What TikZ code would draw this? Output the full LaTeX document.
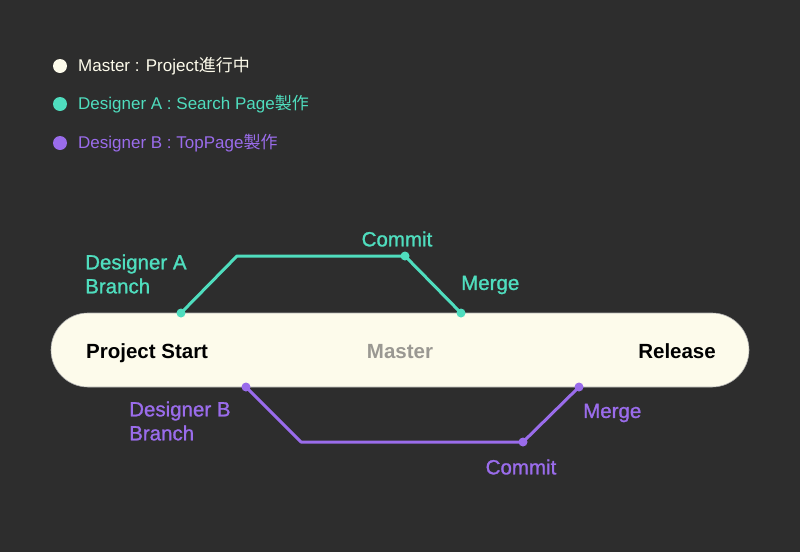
\documentclass[tikz,border=0pt]{standalone}
\usepackage{fontspec}
\usetikzlibrary{shapes.misc}
\setmainfont{Liberation Sans}
\newfontfamily\jp{Noto Sans CJK JP}
\newfontfamily\med{Liberation Sans}[FakeBold=1.2]
\definecolor{bg}{HTML}{2D2D2D}
\definecolor{cream}{HTML}{FDFBEB}
\definecolor{teal}{HTML}{4FDDBE}
\definecolor{purp}{HTML}{9A6CEB}
\definecolor{mgray}{HTML}{9A9892}
\begin{document}
\begin{tikzpicture}[x=1pt,y=-1pt,
  legtxt/.style={anchor=west,font=\fontsize{17}{18}\selectfont,inner sep=0pt},
  brlbl/.style={anchor=west,font=\fontsize{20.5}{24}\selectfont\med,inner sep=0pt,align=left},
  smlbl/.style={font=\fontsize{20.5}{22}\selectfont\med,inner sep=0pt},
  pilltxt/.style={font=\fontsize{20.5}{22}\selectfont\bfseries,inner sep=0pt},
  dotA/.style={circle,fill=teal,inner sep=0pt,minimum size=9pt},
  dotB/.style={circle,fill=purp,inner sep=0pt,minimum size=9pt},
  lineA/.style={draw=teal,line width=3pt,line join=round},
  lineB/.style={draw=purp,line width=3pt,line join=round}]
\fill[bg] (0,0) rectangle (800,552);
\useasboundingbox (0,0) rectangle (800,552);
% legend
\node[circle,fill=cream,inner sep=0pt,minimum size=14pt] (l1) at (60,66) {};
\node[circle,fill=teal,inner sep=0pt,minimum size=14pt] (l2) at (60,104) {};
\node[circle,fill=purp,inner sep=0pt,minimum size=14pt] (l3) at (60,143) {};
\node[legtxt,text=cream] (t1) at (78,66) {Master : Project{\jp 進行中}};
\node[legtxt,text=teal] (t2) at (78,104) {Designer A : Search Page{\jp 製作}};
\node[legtxt,text=purp] (t3) at (78,143) {Designer B : TopPage{\jp 製作}};
% pill
\node[draw=gray!60,line width=0.6pt,fill=cream,rounded rectangle,minimum width=698pt,minimum height=74pt,inner sep=0pt] (pill) at (400,350) {};
\node[pilltxt,anchor=base west,text=black] (ps) at (86,358.5) {Project Start};
\node[pilltxt,anchor=base,text=mgray] (ms) at (400,358.5) {Master};
\node[pilltxt,anchor=base east,text=black] (rl) at (716,358.5) {Release};
% branch A
\coordinate (a1) at (237,256);
\node[dotA] (as) at (181,313) {};
\node[dotA] (ac) at (405,256) {};
\node[dotA] (am) at (461,313) {};
\draw[lineA] (as.center) -- (a1) -- (ac.center) -- (am.center);
\node[brlbl,text=teal] (al) at (85,274) {Designer A\\Branch};
\node[smlbl,text=teal] (acl) at (397,239) {Commit};
\node[smlbl,anchor=west,text=teal] (aml) at (461,285) {Merge};
% branch B
\coordinate (b1) at (301,442);
\node[dotB] (bs) at (246,387) {};
\node[dotB] (bc) at (523,442) {};
\node[dotB] (bm) at (579,387) {};
\draw[lineB] (bs.center) -- (b1) -- (bc.center) -- (bm.center);
\node[brlbl,text=purp] (bl) at (129,421) {Designer B\\Branch};
\node[smlbl,text=purp] (bcl) at (521,467) {Commit};
\node[smlbl,anchor=west,text=purp] (bml) at (583,413) {Merge};
\end{tikzpicture}
\end{document}
